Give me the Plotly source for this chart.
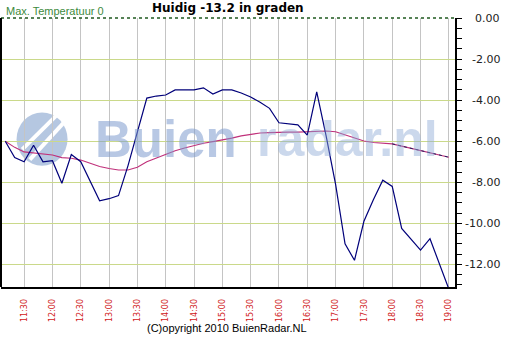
import plotly.graph_objects as go

times = ["11:10", "11:20", "11:30", "11:40", "11:50",
         "12:00", "12:10", "12:20", "12:30", "12:40", "12:50",
         "13:00", "13:10", "13:20", "13:30", "13:40", "13:50",
         "14:00", "14:10", "14:20", "14:30", "14:40", "14:50",
         "15:00", "15:10", "15:20", "15:30", "15:40", "15:50",
         "16:00", "16:10", "16:20", "16:30", "16:40", "16:50",
         "17:00", "17:10", "17:20", "17:30", "17:40", "17:50",
         "18:00", "18:10", "18:20", "18:30", "18:40", "18:50",
         "19:00"]

temp_now = [-6.0, -6.8, -7.0, -6.2, -7.0,
            -6.95, -8.05, -6.65, -7.0, -7.95, -8.9,
            -8.8, -8.65, -7.2, -5.6, -3.9, -3.8,
            -3.75, -3.5, -3.5, -3.5, -3.4, -3.7,
            -3.5, -3.5, -3.65, -3.85, -4.1, -4.4,
            -5.1, -5.15, -5.2, -5.7, -3.6, -5.75,
            -8.1, -11.0, -11.8, -9.9, -8.85, -7.9,
            -8.2, -10.25, -10.8, -11.3, -10.75, -11.95,
            -13.2]

temp_avg = [-6.0, -6.3, -6.52, -6.58, -6.62,
            -6.67, -6.8, -6.83, -6.92, -7.07, -7.23,
            -7.33, -7.4, -7.4, -7.27, -7.0, -6.82,
            -6.63, -6.46, -6.33, -6.21, -6.1, -6.02,
            -5.95, -5.85, -5.74, -5.66, -5.6, -5.58,
            -5.56, -5.56, -5.56, -5.53, -5.5, -5.5,
            -5.54, -5.68, -5.84, -5.99, -6.06, -6.1,
            -6.13, -6.24, -6.35, -6.47, -6.59, -6.68,
            -6.78]

tick_times = ["11:30", "12:00", "12:30", "13:00", "13:30", "14:00", "14:30",
              "15:00", "15:30", "16:00", "16:30", "17:00", "17:30", "18:00",
              "18:30", "19:00"]
y_ticks = [0, -2, -4, -6, -8, -10, -12]
y_labels = ["0.00", "-2.00", "-4.00", "-6.00", "-8.00", "-10.00", "-12.00"]

title_text = "Huidig -13.2 in graden"
max_text = "Max. Temperatuur 0"
copyright_text = "(C)opyright 2010 BuienRadar.NL"
watermark_a = "Buien"
watermark_b = "radar.nl"

D = "2010-01-01 "
xs = [D + t for t in times]

fig = go.Figure()
fig.add_trace(go.Scatter(x=xs, y=temp_avg, mode="lines",
                         line=dict(color="#c0307a", width=1.1), hoverinfo="skip"))
fig.add_trace(go.Scatter(x=xs[41:], y=temp_avg[41:], mode="lines",
                         line=dict(color="#202060", width=1, dash="dot"), hoverinfo="skip"))
fig.add_trace(go.Scatter(x=xs, y=temp_now, mode="lines",
                         line=dict(color="#00007a", width=1.2), hoverinfo="skip"))

# watermark logo
fig.add_shape(type="circle", xref="x", yref="y",
              x0=D + "11:22", x1=D + "12:16", y0=-7.2, y1=-4.6,
              fillcolor="rgba(150,175,212,0.7)", line=dict(width=0), layer="below")
for a, b, c, d in [("11:28", "12:14", -6.4, -4.3), ("11:36", "12:22", -6.9, -4.6)]:
    fig.add_shape(type="line", xref="x", yref="y", x0=D + a, x1=D + b, y0=c, y1=d,
                  line=dict(color="white", width=4), layer="below")
fig.add_annotation(text="<b>" + watermark_a + "</b>", xref="x", yref="y",
                   x=D + "12:43", y=-5.9, xanchor="left", showarrow=False,
                   font=dict(family="Liberation Sans", size=51, color="rgba(125,155,205,0.55)"))
fig.add_annotation(text="<b>" + watermark_b + "</b>", xref="x", yref="y",
                   x=D + "15:35", y=-5.9, xanchor="left", showarrow=False,
                   font=dict(family="Liberation Sans", size=50, color="rgba(140,168,212,0.45)"))

# borders
fig.add_shape(type="line", xref="paper", yref="paper", x0=0, x1=1, y0=1, y1=1,
              line=dict(color="#1f5a1f", width=1.5, dash="dot"))
fig.add_shape(type="line", xref="paper", yref="paper", x0=0, x1=0, y0=0, y1=1,
              line=dict(color="black", width=2))

fig.add_annotation(text="<b>" + title_text + "</b>", xref="paper", yref="paper",
                   x=0.5, y=1, yanchor="middle", yshift=10, showarrow=False,
                   font=dict(family="DejaVu Sans", size=12, color="black"))
fig.add_annotation(text=max_text, xref="paper", yref="paper", x=0.007, y=1,
                   xanchor="left", yanchor="bottom", yshift=-1, showarrow=False,
                   font=dict(family="Liberation Sans", size=11, color="#3d8a3d"))
fig.add_annotation(text=copyright_text, xref="paper", yref="paper", x=0.498, y=0,
                   yanchor="middle", yshift=-41, showarrow=False,
                   font=dict(family="Liberation Sans", size=11, color="black"))
for v, lab in zip(y_ticks, y_labels):
    fig.add_annotation(text=lab, xref="paper", yref="y", x=1.104, y=v,
                       xanchor="right", showarrow=False,
                       font=dict(family="DejaVu Sans", size=11, color="#222222"))

fig.update_layout(
    width=513, height=337,
    margin=dict(l=1, r=58, t=18, b=50),
    paper_bgcolor="white", plot_bgcolor="white",
    showlegend=False,
    xaxis=dict(range=[D + "11:05:30", D + "19:06:30"], type="date",
               tickvals=[D + t for t in tick_times], ticktext=tick_times,
               tickangle=-90, tickfont=dict(family="DejaVu Sans", size=8, color="#d02020"),
               showgrid=True, gridcolor="#c4c4c4", gridwidth=1,
               showline=True, linecolor="black", linewidth=1.5,
               ticks="", ticklabelstandoff=7, zeroline=False),
    yaxis=dict(range=[-13.1, 0], side="right", tickvals=y_ticks,
               showticklabels=False, showgrid=True, gridcolor="#cad98a", gridwidth=1,
               showline=True, linecolor="black", linewidth=1.5,
               ticks="outside", ticklen=5, tickcolor="black",
               minor=dict(dtick=0.5, tick0=0, ticks="outside", ticklen=5, tickcolor="black", showgrid=False),
               zeroline=False),
)

fig.write_html("out.html")
